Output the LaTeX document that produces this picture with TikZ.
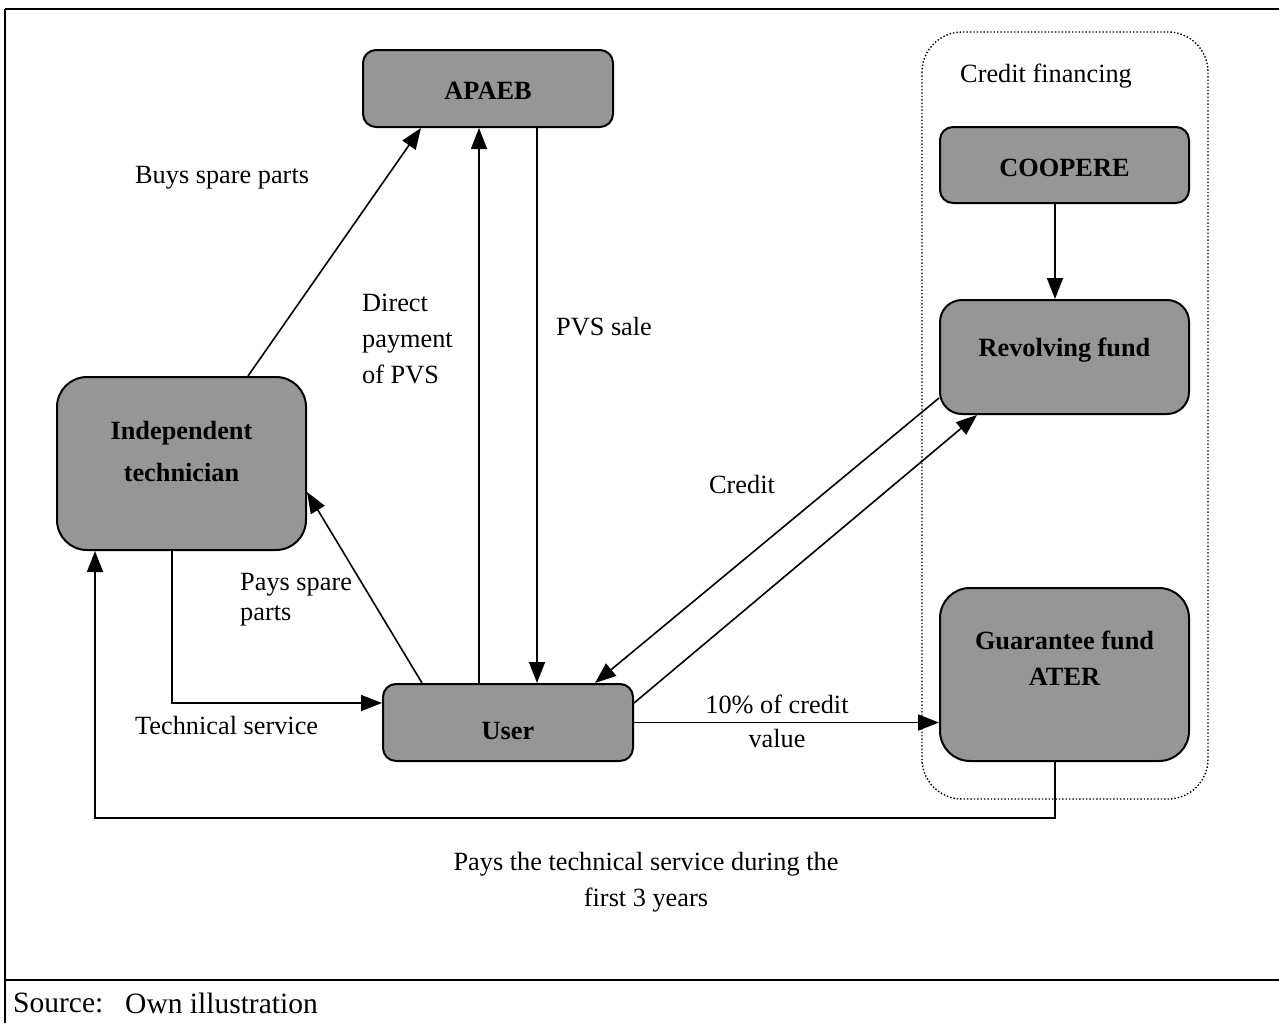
\documentclass[tikz,border=0pt]{standalone}
\usepackage{fontspec}
\setmainfont{Liberation Serif}
\usetikzlibrary{arrows.meta,calc}
\definecolor{boxgray}{RGB}{150,150,150}
\tikzset{
  box/.style={draw=black, line width=2pt, fill=boxgray, inner sep=0pt},
  boxlbl/.style={font=\fontsize{26.3}{42}\selectfont\bfseries, align=center, inner sep=0pt},
  lbl/.style={font=\fontsize{26.3}{36}\selectfont, inner sep=0pt},
  srclbl/.style={font=\fontsize{29.5}{36}\selectfont, inner sep=0pt},
  arr/.style={line width=1.6pt, -{Triangle[length=21pt,width=16pt]}},
  conn/.style={line width=1.6pt},
  frame/.style={line width=2.4pt}
}
\begin{document}
\begin{tikzpicture}[x=1pt,y=-1pt]
\useasboundingbox (0,0) rectangle (1279,1023);
% frame
\draw[frame] (5,9) -- (1279,9);
\draw[frame] (5,9) -- (5,1023);
\draw[frame] (5,980) -- (1279,980);
% container
\draw[dotted, line width=1.4pt, rounded corners=40pt] (922,32) rectangle (1208,799);
\node[lbl, anchor=west] (cf) at (960,76) {Credit financing};
% boxes
\node[box, rounded corners=13pt, minimum width=250pt, minimum height=77pt,
  label={[boxlbl,yshift=-2pt]center:APAEB}] (apaeb) at (488,88.5) {};
\node[box, rounded corners=13pt, minimum width=249pt, minimum height=76pt,
  label={[boxlbl,yshift=-3pt]center:COOPERE}] (coop) at (1064.5,165) {};
\node[box, rounded corners=22pt, minimum width=249pt, minimum height=114pt,
  label={[boxlbl,yshift=7pt]center:Revolving fund}] (rev) at (1064.5,357) {};
\node[box, rounded corners=30pt, minimum width=249pt, minimum height=173pt,
  label={[boxlbl,yshift=16pt,font=\fontsize{26.3}{36}\selectfont\bfseries]center:Guarantee fund\\ATER}] (guar) at (1064.5,674.5) {};
\node[box, rounded corners=30pt, minimum width=249pt, minimum height=173pt,
  label={[boxlbl,yshift=12pt]center:Independent\\technician}] (tech) at (181.5,463.5) {};
\node[box, rounded corners=13pt, minimum width=250pt, minimum height=77pt,
  label={[boxlbl,yshift=-9pt]center:User}] (user) at (508,722.5) {};
% connectors
\draw[arr] ([xshift=66.5pt]tech.north) -- ([xshift=-67pt]apaeb.south);
\draw[arr] ([xshift=-29pt]user.north) -- ([xshift=-29pt]user.north |- apaeb.south);
\draw[arr] ([xshift=49pt]apaeb.south) -- ([xshift=49pt]apaeb.south |- user.north);
\draw[arr] ([xshift=-86pt]user.north) -- ([yshift=-28.5pt]tech.east);
\draw[arr] ([yshift=-41pt]rev.west) -- ([xshift=87pt]user.north);
\draw[arr] ([yshift=19.5pt]user.east) -- ([xshift=-87.5pt]rev.south);
\draw[arr] (user.east) -- (user.east -| guar.west);
\coordinate (c1) at (1055,818);
\coordinate (c2) at (95,818);
\draw[arr] ([xshift=-9.5pt]guar.south) -- (c1) -- (c2) -- ([xshift=-86.5pt]tech.south);
\draw[arr] ([xshift=-9.5pt]tech.south) |- ([yshift=19.5pt]user.west);
\draw[arr] ([xshift=-9.5pt]coop.south) -- ([xshift=-9.5pt]rev.north);
% labels
\node[lbl, anchor=west] (l1) at (135,178) {Buys spare parts};
\node[lbl, anchor=west, align=left] (l2) at (362,339) {Direct\\payment\\of PVS};
\node[lbl, anchor=west] (l3) at (556,327) {PVS sale};
\node[lbl] (l4) at (742,484) {Credit};
\node[lbl, anchor=west, align=left, font=\fontsize{26.3}{30}\selectfont] (l5) at (240,600) {Pays spare\\parts};
\node[lbl, anchor=west] (l6) at (135,725) {Technical service};
\node[lbl, align=center, font=\fontsize{26.3}{34}\selectfont] (l7) at (777,721) {10\% of credit\\value};
\node[lbl, align=center] (l8) at (646,882) {Pays the technical service during the\\first 3 years};
\node[srclbl, anchor=west] (s1) at (13,1003) {Source:};
\node[srclbl, anchor=west] (s2) at (125,1003) {Own illustration};
\end{tikzpicture}
\end{document}
